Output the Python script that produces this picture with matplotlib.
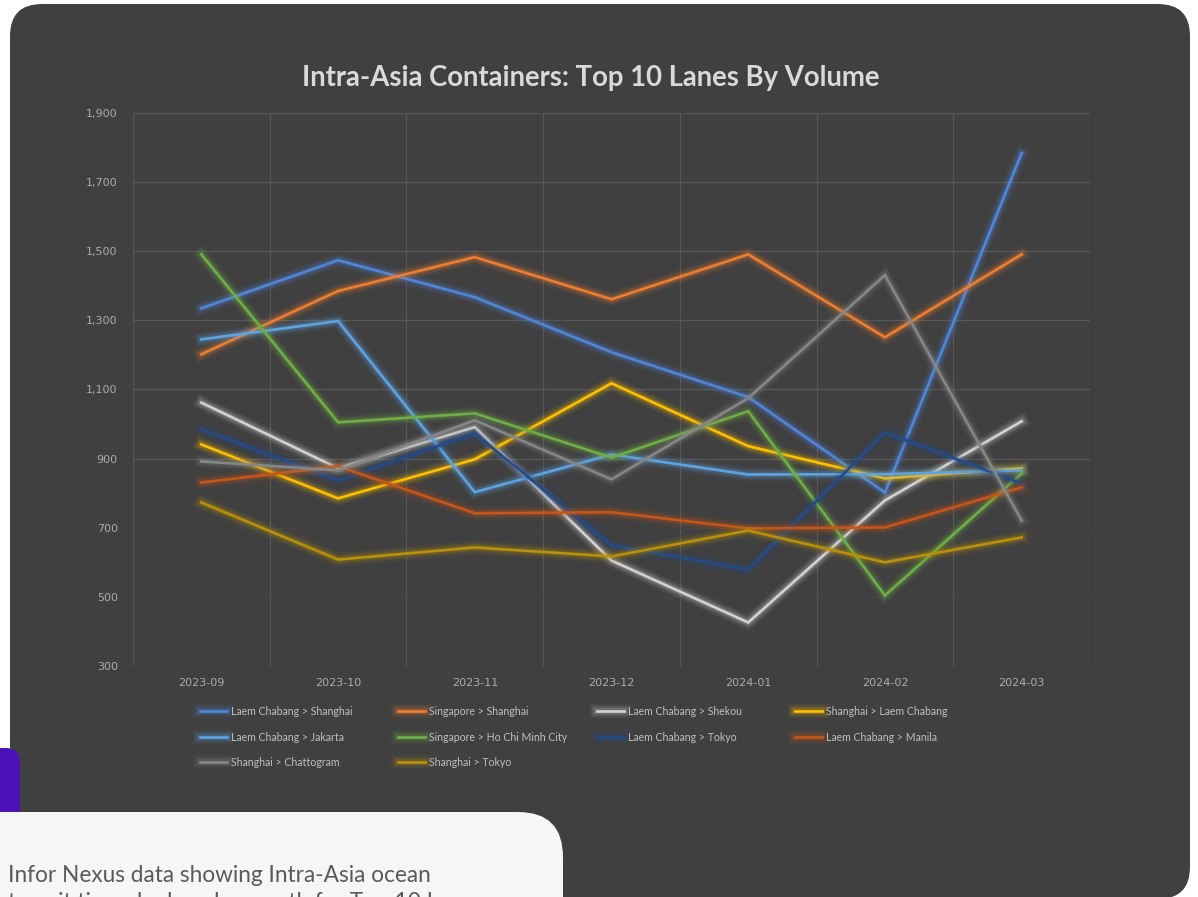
import matplotlib
matplotlib.use("Agg")
import matplotlib.pyplot as plt
import matplotlib.patheffects as pe
from matplotlib.patches import FancyBboxPatch

# monthly container volume per lane
months = ["2023-09", "2023-10", "2023-11", "2023-12", "2024-01", "2024-02", "2024-03"]

lc_shanghai = [1335, 1474, 1367, 1208, 1078, 802, 1784]
sg_shanghai = [1202, 1385, 1483, 1361, 1491, 1251, 1491]
lc_shekou = [1062, 872, 991, 605, 426, 779, 1008]
sh_laemchabang = [941, 785, 898, 1118, 936, 843, 872]
lc_jakarta = [1245, 1298, 803, 912, 854, 855, 866]
sg_hochiminh = [1491, 1005, 1031, 903, 1037, 504, 857]
lc_tokyo = [985, 837, 973, 649, 579, 976, 828]
lc_manila = [831, 878, 742, 745, 698, 701, 817]
sh_chattogram = [892, 866, 1011, 840, 1075, 1431, 721]
sh_tokyo = [773, 608, 643, 617, 692, 600, 672]

lanes = [
    ("Laem Chabang > Shanghai", lc_shanghai, "#5085d8"),
    ("Singapore > Shanghai", sg_shanghai, "#ed7d31"),
    ("Laem Chabang > Shekou", lc_shekou, "#d2d2d2"),
    ("Shanghai > Laem Chabang", sh_laemchabang, "#ffc000"),
    ("Laem Chabang > Jakarta", lc_jakarta, "#5ea3e0"),
    ("Singapore > Ho Chi Minh City", sg_hochiminh, "#70ad47"),
    ("Laem Chabang > Tokyo", lc_tokyo, "#264a85"),
    ("Laem Chabang > Manila", lc_manila, "#c4561a"),
    ("Shanghai > Chattogram", sh_chattogram, "#868686"),
    ("Shanghai > Tokyo", sh_tokyo, "#b8900a"),
]

yticks = [300, 500, 700, 900, 1100, 1300, 1500, 1700, 1900]

W, H = 1198, 897
fig = plt.figure(figsize=(W / 100, H / 100), dpi=100, facecolor="white")
inch = fig.dpi_scale_trans

# dark rounded panel behind the chart
fig.patches.append(FancyBboxPatch((0.10, -0.02), 11.80, 8.95,
                                  boxstyle="round,pad=0,rounding_size=0.32",
                                  transform=inch, fc="#404040", ec="none", zorder=-5))

ax = fig.add_axes([133 / W, 1 - 666 / H, (1090 - 133) / W, (666 - 113) / H])
ax.set_zorder(2)
ax.set_facecolor("none")
for s in ax.spines.values():
    s.set_visible(False)

x = list(range(len(months)))
for name, vals, col in lanes:
    ax.plot(x, vals, color=col, lw=1.9, label=name, solid_joinstyle="miter",
            path_effects=[pe.Stroke(linewidth=10, foreground=col, alpha=0.07),
                          pe.Stroke(linewidth=7, foreground=col, alpha=0.12),
                          pe.Stroke(linewidth=4.5, foreground=col, alpha=0.2),
                          pe.Normal()])

ax.set_xlim(-0.5, 6.5)
ax.set_ylim(300, 1900)
ax.set_xticks(x)
ax.set_xticklabels(months)
ax.set_yticks(yticks)
ax.set_yticklabels([f"{v:,}" for v in yticks])
ax.tick_params(length=0, colors="#acacac", labelsize=8)
ax.tick_params(axis="y", pad=11)
ax.tick_params(axis="x", pad=9)

# gridlines between categories and at each value step
for b in [i - 0.5 for i in range(len(months) + 1)]:
    ax.axvline(b, color="#565656", lw=0.9, zorder=0)
for v in yticks:
    ax.axhline(v, color="#585858" if v >= 900 else "#444444", lw=0.9, zorder=0)

fig.text(591 / W, 1 - 78 / H, "Intra-Asia Containers: Top 10 Lanes By Volume",
         ha="center", va="center", fontsize=19.8, fontweight="bold",
         color="#d9d9d9", family="Lato")

# legend: four fixed-width columns
handles, labels = ax.get_legend_handles_labels()
col_x = [200, 398, 597, 795]
for j, cx in enumerate(col_x):
    fig.legend(handles[j::4], labels[j::4], loc="upper left",
               bbox_to_anchor=(cx / W, 1 - 706 / H), frameon=False,
               labelcolor="#bfbfbf", handlelength=2.6,
               handletextpad=0.35, borderaxespad=0, borderpad=0,
               labelspacing=1.38, prop={"family": "Lato", "size": 7.6})

# caption card at the bottom left
fig.patches.append(FancyBboxPatch((-0.3, 0.55), 0.50, 0.94,
                                  boxstyle="round,pad=0,rounding_size=0.14",
                                  transform=inch, fc="#4b12b8", ec="none", zorder=1))
fig.patches.append(FancyBboxPatch((-0.5, -0.6), 6.13, 1.45,
                                  boxstyle="round,pad=0,rounding_size=0.45",
                                  transform=inch, fc="#f5f7f6", ec="none", zorder=2))
fig.text(8 / W, 1 - 882 / H, "Infor Nexus data showing Intra-Asia ocean",
         ha="left", va="baseline", fontsize=16.3, color="#5a5a5a", family="Lato", zorder=3)
fig.text(8 / W, 1 - 892 / H, "transit times by lane by month for Top 10 Lanes",
         ha="left", va="top", fontsize=16.3, color="#5a5a5a", family="Lato", zorder=3)

fig.savefig("out.png", dpi=100, facecolor="white")
